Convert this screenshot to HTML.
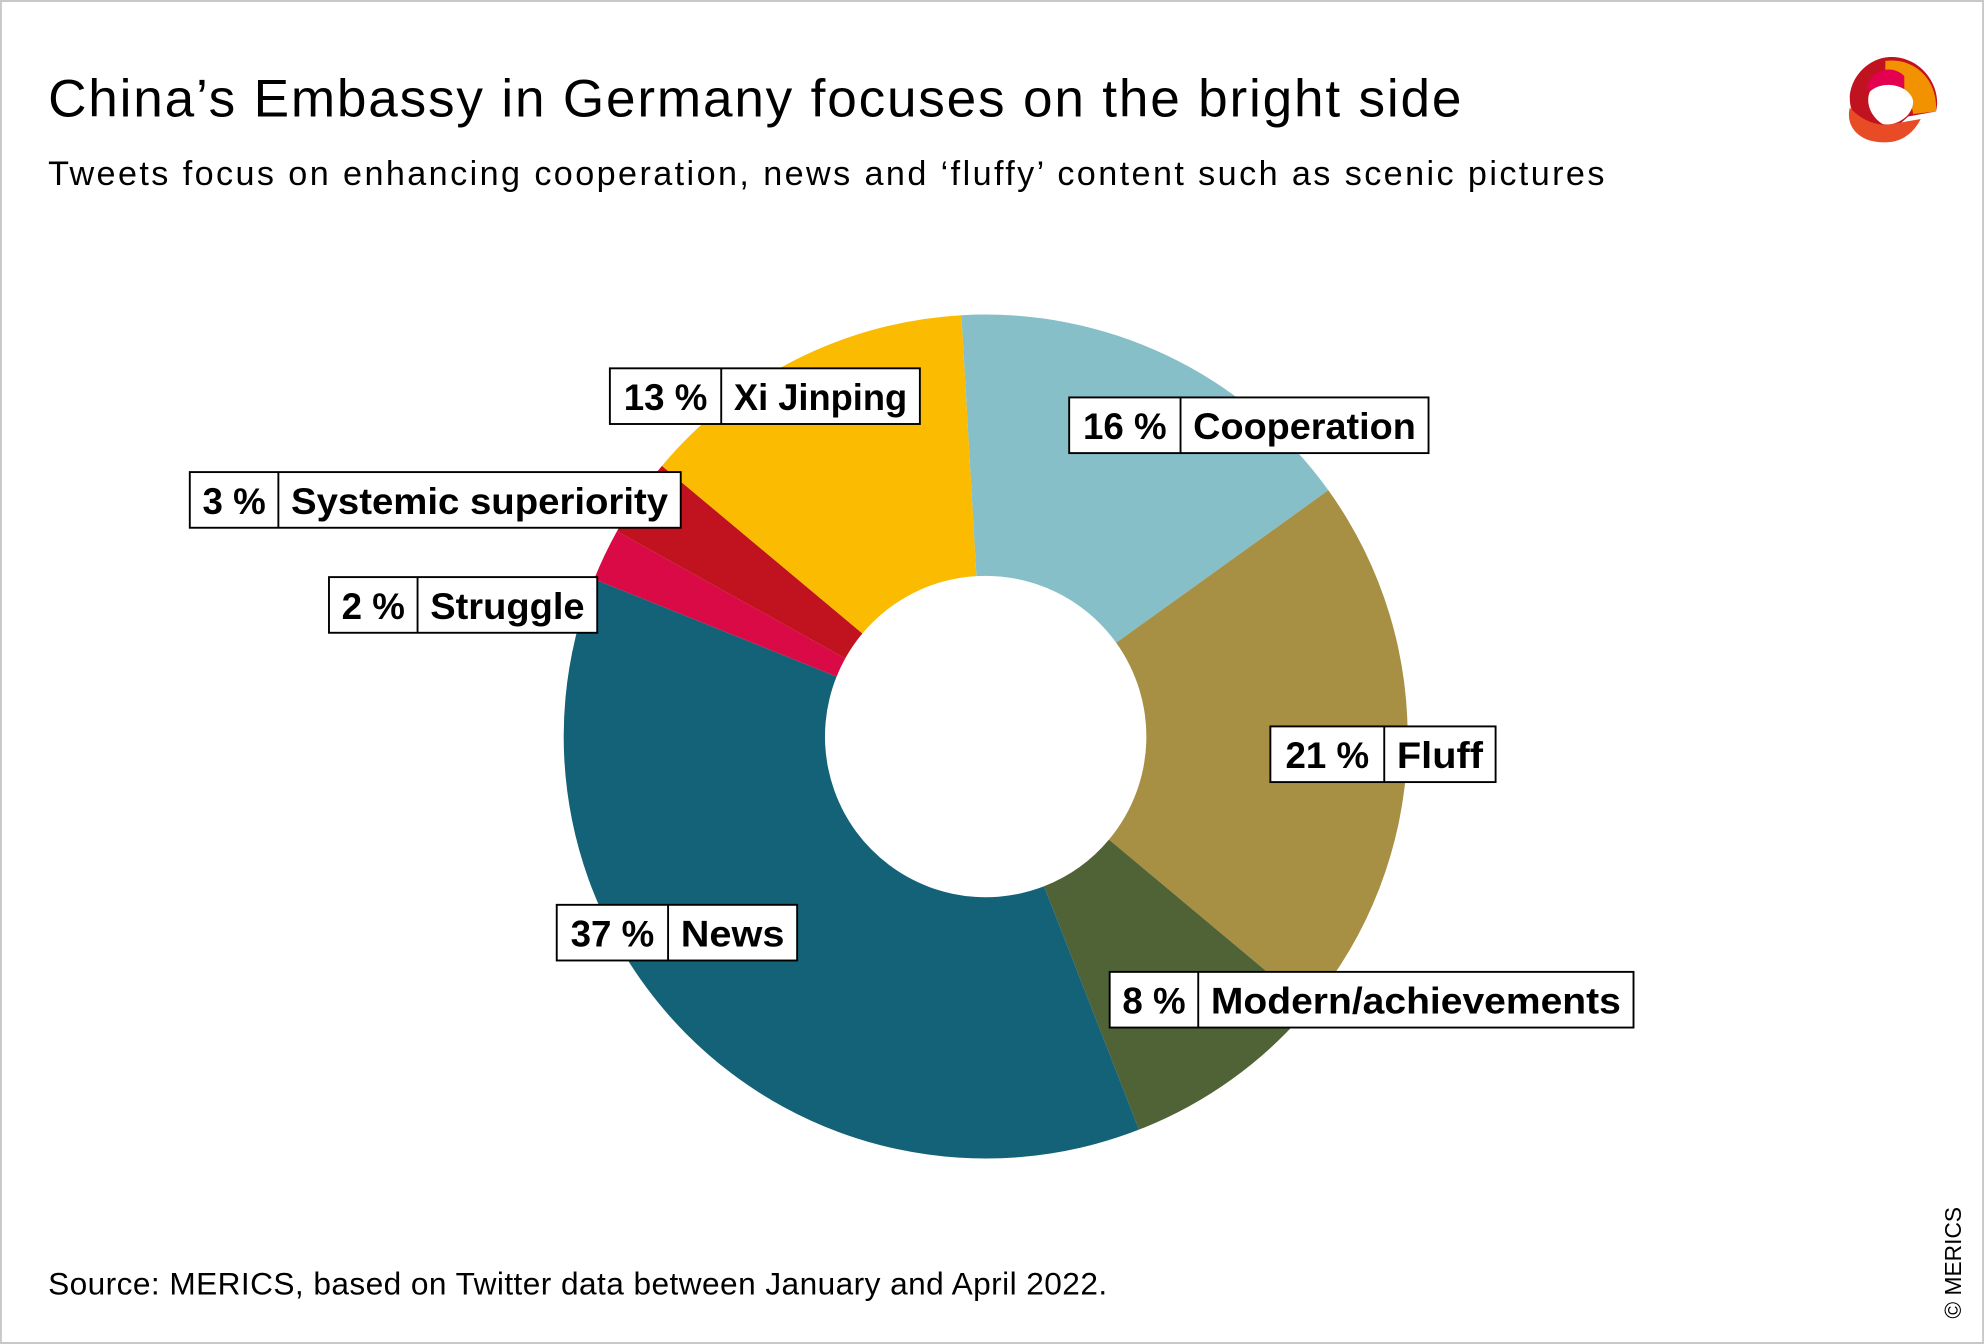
<!DOCTYPE html>
<html><head><meta charset="utf-8"><style>
html,body{margin:0;padding:0;background:#fff}
svg{display:block}
text{font-family:"Liberation Sans",sans-serif;fill:#000}
.lb{font-size:29px;font-weight:bold}
</style></head><body>
<svg id="s" width="1984" height="1344" viewBox="0 0 1568 1062" xmlns="http://www.w3.org/2000/svg">
<rect x="0.5" y="0.5" width="1567" height="1061" fill="#fff" stroke="#c8c8c8" stroke-width="2"/>
<text x="38" y="92" font-size="42" textLength="1117" lengthAdjust="spacing">China’s Embassy in Germany focuses on the bright side</text>
<text x="38" y="146" font-size="27" textLength="1230" lengthAdjust="spacing">Tweets focus on enhancing cooperation, news and ‘fluffy’ content such as scenic pictures</text>
<text x="38" y="1023" font-size="25" textLength="837" lengthAdjust="spacing">Source: MERICS, based on Twitter data between January and April 2022.</text>
<text transform="translate(1550,1042) rotate(-90)" font-size="18">© MERICS</text>
<g id="pie"></g>
<g>
<path d="M1468,95 C1452,75 1470,45 1495,45 C1520,45 1535,70 1530,88 L1508,92 C1500,100 1488,108 1478,100 Z" fill="#c0121f"/>
<path d="M1490,48 C1515,45 1532,65 1530,88 L1512,90 C1510,75 1500,65 1490,65 Z" fill="#f39200"/>
<path d="M1475,70 C1478,55 1495,50 1505,60 L1505,80 Z" fill="#e2004f"/>
<path d="M1462,85 C1458,100 1470,115 1495,112 C1508,110 1515,100 1518,94 L1495,98 C1485,100 1472,96 1462,85 Z" fill="#e84c27"/>
<path d="M1478,72 C1490,62 1510,68 1512,80 C1512,92 1498,100 1488,98 C1478,92 1474,80 1478,72 Z" fill="#fff"/>
</g>
<g id="labels"></g>
</svg>
<script>
var cx=779,cy=582,R=333.5,r=127;
var data=[[16,"#86bfc8"],[21,"#a79044"],[8,"#506336"],[37,"#136278"],[2,"#d90a45"],[3,"#c0121f"],[13,"#fabb00"]];
var a=-3.3*Math.PI/180,g=document.getElementById('pie'),h='';
function pt(rad,ang){return [cx+rad*Math.sin(ang),cy-rad*Math.cos(ang)];}
data.forEach(function(d){
 var b=a+d[0]/100*2*Math.PI,large=(b-a)>Math.PI?1:0;
 var p1=pt(R,a),p2=pt(R,b),p3=pt(r,b),p4=pt(r,a);
 h+='<path fill="'+d[1]+'" d="M'+p1+' A'+R+','+R+' 0 '+large+' 1 '+p2+' L'+p3+' A'+r+','+r+' 0 '+large+' 0 '+p4+' Z"/>';
 a=b;});
g.innerHTML=h;
var L=[[482,570,727,291,"13 %","Xi Jinping"],[845,933,1129,314,"16 %","Cooperation"],[150,220,538,373,"3 %","Systemic superiority"],[260,330,472,456,"2 %","Struggle"],[1004,1094,1182,574,"21 %","Fluff"],[440,528,630,715,"37 %","News"],[877,947,1291,768,"8 %","Modern/achievements"]];
var s='';
L.forEach(function(l){
 s+='<rect x="'+l[0]+'" y="'+l[3]+'" width="'+(l[2]-l[0])+'" height="44" fill="#fff" stroke="#000" stroke-width="1.5"/>';
 s+='<line x1="'+l[1]+'" y1="'+l[3]+'" x2="'+l[1]+'" y2="'+(l[3]+44)+'" stroke="#000" stroke-width="1.5"/>';
 s+='<text class="lb" x="'+((l[0]+l[1])/2)+'" y="'+(l[3]+33)+'" text-anchor="middle">'+l[4]+'</text>';
 s+='<text class="lb" x="'+(l[1]+10)+'" y="'+(l[3]+33)+'" textLength="'+(l[2]-l[1]-20)+'" lengthAdjust="spacingAndGlyphs">'+l[5]+'</text>';});
document.getElementById('labels').innerHTML=s;
</script>
</body></html>
